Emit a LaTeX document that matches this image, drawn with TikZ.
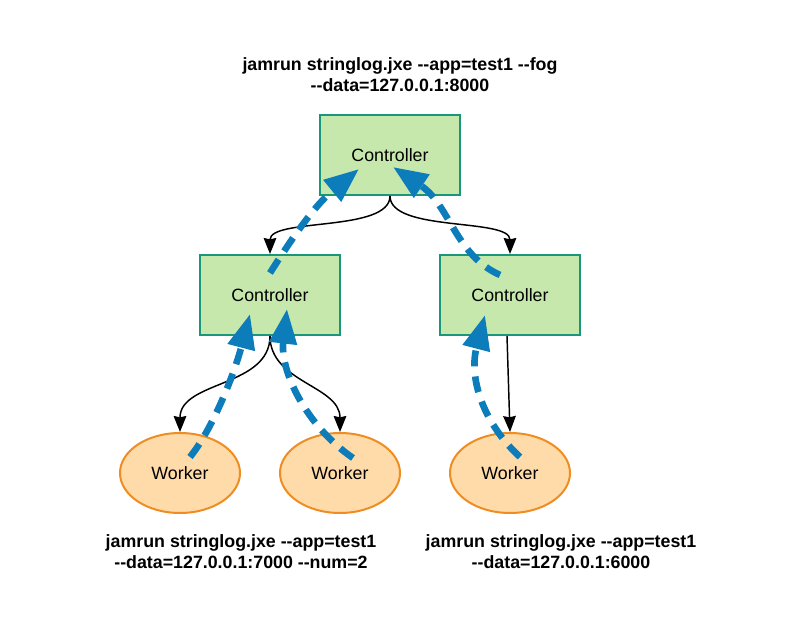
\documentclass[tikz,border=0pt]{standalone}
\usepackage{fontspec}
\setmainfont{Liberation Sans}[Ligatures=TeXOff]
\usepackage{tikz}
\usetikzlibrary{arrows.meta, positioning, calc, shapes.geometric}

\definecolor{ctrlfill}{RGB}{199,232,172}
\definecolor{ctrldraw}{RGB}{26,150,120}
\definecolor{workfill}{RGB}{255,219,169}
\definecolor{workdraw}{RGB}{239,141,34}
\definecolor{flowblue}{RGB}{12,124,186}

\begin{document}
\begin{tikzpicture}[
        x=0.75pt, y=-0.75pt,
        font=\fontsize{13.35}{15.75}\selectfont,
        controller/.style={
            draw=ctrldraw,
            line width=1.5pt,
            fill=ctrlfill,
            minimum width=105pt,
            minimum height=60pt
        },
        worker/.style={
            ellipse,
            draw=workdraw,
            line width=1.5pt,
            fill=workfill,
            minimum width=90pt,
            minimum height=60pt
        },
        command/.style={
            font=\fontsize{13.35}{15.75}\selectfont\bfseries,
            align=center
        },
        treearrow/.style={
            line width=1.1pt,
            -{Stealth[length=12pt, width=9.5pt, inset=1pt]}
        },
        flow/.style={
            -{Triangle[length=26pt, width=20pt]},
            line width=5pt,
            dash pattern=on 12pt off 7.5pt,
            color=flowblue
        }
    ]
    \useasboundingbox (0,0) rectangle (800,630);

    \node[command] (cmdtop) at (400,75) {jamrun stringlog.jxe --app=test1 --fog\\--data=127.0.0.1:8000};

    \node[controller] (ctrltop) at (390,155) {Controller};
    \node[controller] (ctrlleft) at (270,295) {Controller};
    \node[controller] (ctrlright) at (510,295) {Controller};

    \node[worker] (wleft) at (180,473) {Worker};
    \node[worker] (wmid) at (340,473) {Worker};
    \node[worker] (wright) at (510,473) {Worker};

    \node[command] (cmdleft) at (241,552) {jamrun stringlog.jxe --app=test1\\--data=127.0.0.1:7000 --num=2};
    \node[command] (cmdright) at (561,552) {jamrun stringlog.jxe --app=test1\\--data=127.0.0.1:6000};

    % controller tree
    \draw[treearrow] (ctrltop.south) to[out=-90, in=90, looseness=0.7] (ctrlleft.north);
    \draw[treearrow] (ctrltop.south) to[out=-90, in=90, looseness=0.7] (ctrlright.north);
    \draw[treearrow] (ctrlleft.south) to[out=-90, in=90] (wleft.north);
    \draw[treearrow] (ctrlleft.south) to[out=-90, in=90] (wmid.north);
    \draw[treearrow] ($(ctrlright.south)+(-3,0)$) -- (wright.north);

    % data flowing back up
    \draw[flow] ($(wleft)+(10,-16)$) .. controls (212,430) and (234,375) .. ($(ctrlleft)+(-20,19)$);
    \draw[flow] ($(wmid)+(13,-15)$) .. controls (305,425) and (280,370) .. ($(ctrlleft)+(17,14)$);
    \draw[flow] ($(wright)+(10,-16)$) .. controls (485,425) and (468,380) .. ($(ctrlright)+(-25,20)$);
    \draw[flow] ($(ctrlleft)+(0,-22)$) .. controls (292,238) and (315,205) .. ($(ctrltop)+(-31,14)$);
    \draw[flow] ($(ctrlright)+(-10,-20)$) .. controls (455,255) and (450,205) .. ($(ctrltop)+(3,12)$);

\end{tikzpicture}
\end{document}
